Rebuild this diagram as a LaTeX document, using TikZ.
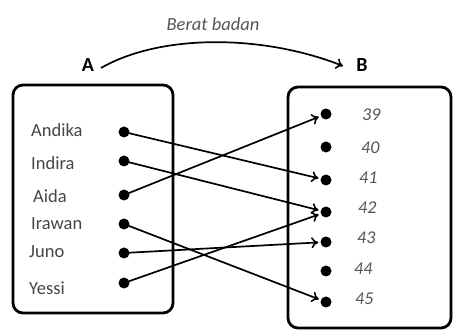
\documentclass[tikz,border=0pt]{standalone}
\usepackage{fontspec}
\setmainfont{Carlito}
\usetikzlibrary{arrows.meta}
\definecolor{txtgrey}{HTML}{454545}
\definecolor{numgrey}{HTML}{555555}
\tikzset{
  setbox/.style={draw, line width=2.8pt, rounded corners=10pt},
  dotnode/.style={circle, fill=black, inner sep=0pt, minimum size=11pt},
  personlbl/.style={anchor=west, text=txtgrey, inner sep=0pt, font=\fontsize{18.5}{22}\selectfont},
  numlbl/.style={anchor=west, text=numgrey, inner sep=0pt, font=\itshape\fontsize{18}{21}\selectfont},
  setlbl/.style={font=\bfseries\fontsize{20}{24}\selectfont},
  maparrow/.style={line width=1.7pt, -{To[length=7pt,width=11pt,line width=1.6pt]}, shorten >=2pt},
}
\begin{document}
\begin{tikzpicture}[x=1pt, y=-1pt]
  \useasboundingbox (0,0) rectangle (453,331);

  % the two sets
  \draw[setbox] (13,85) rectangle (173,313);
  \draw[setbox] (288,87) rectangle (451,328);

  % set labels and the relation arrow
  \node[setlbl] (A) at (88,65) {A};
  \node[setlbl] (B) at (362,65) {B};
  \coordinate (as) at (101,68);
  \coordinate (ae) at (343,66);
  \draw[maparrow, shorten >=0pt] (as) .. controls (160,34) and (262,34) .. (ae);
  \node[text=numgrey, font=\itshape\fontsize{18.5}{22}\selectfont] (rel) at (213,24) {Berat badan};

  % domain
  \foreach \n/\y in {andika/132, indira/161, aida/195, irawan/224, juno/253, yessi/283}
    \node[dotnode] (\n) at (124,\y) {};
  \node[personlbl] (tAndika) at (31,130) {Andika};
  \node[personlbl] (tIndira) at (31,163) {Indira};
  \node[personlbl] (tAida)   at (33,196) {Aida};
  \node[personlbl] (tIrawan) at (31,224) {Irawan};
  \node[personlbl] (tJuno)   at (29,252) {Juno};
  \node[personlbl] (tYessi)  at (29,288) {Yessi};

  % codomain
  \foreach \n/\y in {39/114, 40/147, 41/180, 42/212, 43/242, 44/271, 45/302}
    \node[dotnode] (b\n) at (326,\y) {};
  \node[numlbl] (t39) at (362,115) {39};
  \node[numlbl] (t40) at (361,148) {40};
  \node[numlbl] (t41) at (359,178) {41};
  \node[numlbl] (t42) at (358,208) {42};
  \node[numlbl] (t43) at (357,238) {43};
  \node[numlbl] (t44) at (354,269) {44};
  \node[numlbl] (t45) at (355,299) {45};

  % mapping
  \draw[maparrow] (andika.center) -- (b41);
  \draw[maparrow] (indira.center) -- (b42);
  \draw[maparrow] (aida.center) -- (b39);
  \draw[maparrow] (irawan.center) -- (b45);
  \draw[maparrow] (juno.center) -- (b43);
  \draw[maparrow] (yessi.center) -- (b42);
\end{tikzpicture}
\end{document}
